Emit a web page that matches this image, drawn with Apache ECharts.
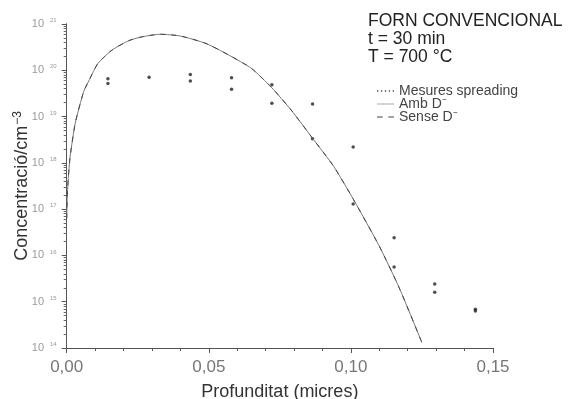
<!DOCTYPE html>
<html>
<head>
<meta charset="utf-8">
<script src="https://cdn.jsdelivr.net/npm/echarts@6/dist/echarts.min.js"></script>
<style>
  html, body { margin: 0; padding: 0; background: #fff; }
  #chart { width: 575px; height: 399px; }
</style>
</head>
<body>
<div id="chart"></div>
<script>
// 测量点 (Mesures spreading)
const measX = [0.0145, 0.0145, 0.029, 0.0435, 0.0435, 0.058, 0.058, 0.0722, 0.0722,
    0.0865, 0.0865, 0.1008, 0.1008, 0.1152, 0.1152, 0.1295, 0.1295, 0.1438, 0.1438];
const measY = [6.6e19, 5.2e19, 7.1e19, 8.1e19, 5.9e19, 6.9e19, 3.9e19, 4.9e19, 1.95e19,
    1.86e19, 3.3e18, 2.2e18, 1.29e17, 2.4e16, 5.6e15, 2.4e15, 1.6e15, 6.9e14, 6.3e14];

// 模拟曲线
const curveX = [0, 0.0002, 0.0006, 0.0012, 0.003, 0.006, 0.008, 0.011, 0.016, 0.022, 0.026,
    0.030, 0.033, 0.040, 0.049, 0.057, 0.065, 0.072, 0.079, 0.0865, 0.094, 0.101, 0.110, 0.117, 0.125];
const ambD = [6.3e16, 1.86e17, 5.0e17, 1.35e18, 7.2e18, 3.5e19, 6.3e19, 1.41e20, 2.75e20, 4.4e20, 5.2e20,
    5.75e20, 6.0e20, 5.5e20, 3.8e20, 2.14e20, 1.1e20, 4.3e19, 1.38e19, 3.4e18, 8.3e17, 1.58e17, 1.58e16, 2.0e15, 1.3e14];
const senseD = [6.3e16, 1.86e17, 5.0e17, 1.35e18, 7.2e18, 3.5e19, 6.3e19, 1.41e20, 2.75e20, 4.4e20, 5.2e20,
    5.75e20, 6.0e20, 5.5e20, 3.8e20, 2.14e20, 1.1e20, 4.3e19, 1.38e19, 3.4e18, 8.3e17, 1.58e17, 1.58e16, 2.0e15, 1.3e14];

// 刻度
const yTicks = [1e14, 1e15, 1e16, 1e17, 1e18, 1e19, 1e20, 1e21];
const xTicks = [0, 0.05, 0.10, 0.15];
const infoLines = ['FORN CONVENCIONAL', 't = 30 min', 'T = 700 °C'];

// 对数次刻度
const yMinorTicks = [];
yTicks.slice(0, -1).forEach(d => {
    for (let k = 2; k <= 9; k++) yMinorTicks.push(d * k);
});

const font = '"Liberation Sans", Arial, sans-serif';
const yMax = 1.0001e21;
const gridBox = { left: 66.7, right: 82, top: 24, bottom: 51, outerBoundsMode: 'none', containLabel: false };
const chart = echarts.init(document.getElementById('chart'));

const option = {
    animation: false,
    backgroundColor: '#fff',
    grid: [Object.assign({}, gridBox), Object.assign({}, gridBox)],
    legend: {
        orient: 'vertical',
        left: 372,
        top: 79,
        itemWidth: 17,
        itemHeight: 8,
        itemGap: -1,
        textStyle: { fontFamily: font, fontSize: 14, color: '#444' },
        data: [
            { name: 'Mesures spreading', icon: 'path://M0,0h2v2h-2zM6,0h2v2h-2zM12,0h2v2h-2zM18,0h2v2h-2zM24,0h2v2h-2z' },
            { name: 'Amb D⁻', icon: 'path://M0,0h26v1h-26z' },
            { name: 'Sense D⁻', icon: 'path://M3,0h6v1h-6zM15,0h6v1h-6z' }
        ]
    },
    graphic: infoLines.map((t, i) => ({
        type: 'text',
        left: 368,
        top: 12 + i * 18.3,
        style: { text: t, font: '17.5px ' + font, fill: '#222' }
    })),
    xAxis: [
        {
            type: 'value',
            gridIndex: 0,
            min: 0,
            max: 0.15,
            interval: 0.05,
            name: 'Profunditat (micres)',
            nameLocation: 'middle',
            nameGap: 35,
            nameMoveOverlap: false,
            nameTextStyle: { fontFamily: font, fontSize: 18, color: '#333' },
            axisLine: { lineStyle: { color: '#555', width: 1 } },
            axisTick: { length: 5, lineStyle: { color: '#555' } },
            minorTick: { show: true, splitNumber: 5, length: 3, lineStyle: { color: '#555' } },
            splitLine: { show: false },
            axisLabel: {
                margin: 11,
                fontFamily: font, fontSize: 17, color: '#777',
                customValues: xTicks,
                formatter: v => v.toFixed(2).replace('.', ',')
            }
        },
        {
            type: 'value',
            gridIndex: 1,
            min: 0,
            max: 0.15,
            show: false
        }
    ],
    yAxis: [
        {
            type: 'log',
            gridIndex: 0,
            logBase: 10,
            min: 1e14,
            max: yMax,
            name: '{a|Concentració/cm}{s|−3}',
            nameLocation: 'middle',
            nameGap: 34,
            nameMoveOverlap: false,
            nameTextStyle: {
                rich: {
                    a: { fontFamily: font, fontSize: 18, color: '#333' },
                    s: { fontFamily: font, fontSize: 12, color: '#333', verticalAlign: 'bottom', padding: [0, 0, 9, 1] }
                }
            },
            axisLine: { show: true, lineStyle: { color: '#555', width: 1 } },
            axisTick: { show: true, length: 3, customValues: yMinorTicks, lineStyle: { color: '#666' } },
            splitLine: { show: false },
            axisLabel: {
                margin: 10,
                customValues: yTicks,
                formatter: v => '{b|10}{s|' + Math.round(Math.log10(v)) + '}',
                rich: {
                    b: { fontFamily: font, fontSize: 11, color: '#999' },
                    s: { fontFamily: font, fontSize: 6, color: '#999', verticalAlign: 'bottom', padding: [0, 0, 7, 6] }
                }
            }
        },
        {
            type: 'log',
            gridIndex: 1,
            logBase: 10,
            min: 1e14,
            max: yMax,
            axisLine: { show: true, lineStyle: { color: '#555', width: 1 } },
            axisTick: { show: true, length: 5, customValues: yTicks, lineStyle: { color: '#555' } },
            axisLabel: { show: false },
            splitLine: { show: false }
        }
    ],
    series: [
        {
            name: 'Mesures spreading',
            type: 'scatter',
            symbol: 'circle',
            symbolSize: 3.5,
            itemStyle: { color: '#222' },
            data: measX.map((x, i) => [x, measY[i]])
        },
        {
            name: 'Amb D⁻',
            type: 'line',
            symbol: 'none',
            smooth: 0.2,
            lineStyle: { color: '#777', width: 1 },
            itemStyle: { color: '#777' },
            data: curveX.map((x, i) => [x, ambD[i]])
        },
        {
            name: 'Sense D⁻',
            type: 'line',
            symbol: 'none',
            smooth: 0.2,
            lineStyle: { color: '#444', width: 1, type: [5, 6] },
            itemStyle: { color: '#444' },
            data: curveX.map((x, i) => [x, senseD[i]])
        }
    ]
};

chart.setOption(option);
</script>
</body>
</html>
